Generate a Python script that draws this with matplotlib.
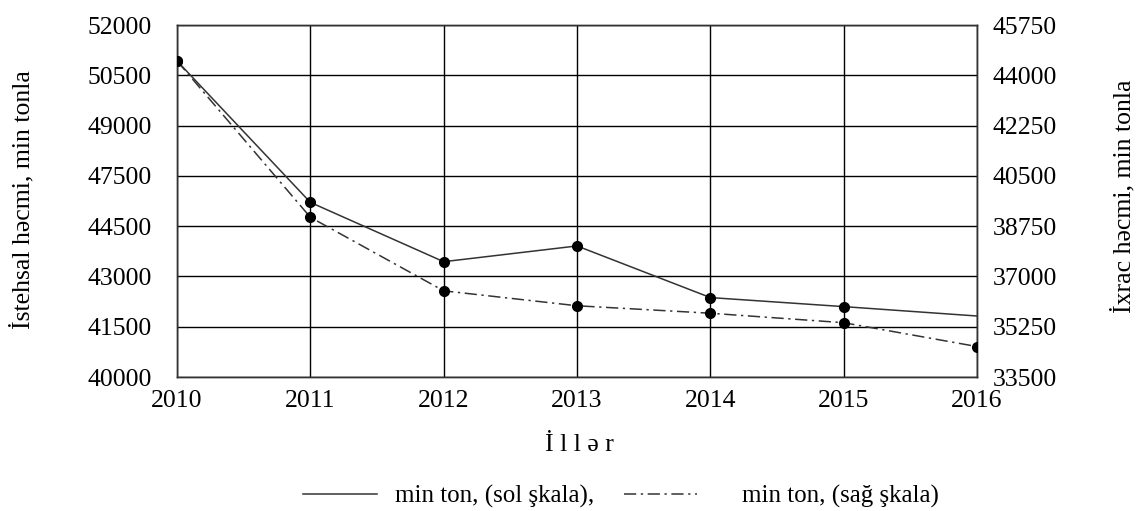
import matplotlib.pyplot as plt
from matplotlib.lines import Line2D

plt.rcParams['font.family'] = ['Liberation Serif', 'DejaVu Serif']

years = [2010, 2011, 2012, 2013, 2014, 2015, 2016]
# left scale (istehsal), in the chart's evenly spaced grid
production = [49430, 45210, 43440, 43910, 42370, 42100, 41820]
# right scale (ixrac)
exports = [44500, 39060, 36500, 35980, 35720, 35390, 34560]

left_ticks = [40000, 41500, 43000, 44500, 46000, 47500, 49000, 50500]
left_labels = ['40000', '41500', '43000', '44500', '47500', '49000', '50500', '52000']
right_ticks = [33500, 35250, 37000, 38750, 40500, 42250, 44000, 45750]

FS = 18.5
dashdot = (0, (8, 3, 1.5, 3))

fig = plt.figure(figsize=(11.39, 5.11), dpi=100)
ax = fig.add_axes([0.1554, 0.2622, 0.7024, 0.6888])
ax2 = ax.twinx()

ax.plot(years, production, color='#333333', lw=1.1, marker='o', ms=7,
        mfc='black', mec='black', markevery=[0, 1, 2, 3, 4, 5], zorder=3)
ax2.plot(years, exports, color='#333333', lw=1.1, ls=dashdot,
         marker='o', ms=7, mfc='black', mec='black', zorder=3)

ax.set_xlim(2010, 2016)
ax.set_ylim(40000, 50500)
ax2.set_ylim(33500, 45750)
ax.set_xticks(years)
ax.set_yticks(left_ticks)
ax.set_yticklabels(left_labels)
ax2.set_yticks(right_ticks)

ax.grid(True, color='black', lw=1.0)
ax.set_axisbelow(True)
for a in (ax, ax2):
    for s in a.spines.values():
        s.set_color('#333333')
        s.set_linewidth(1.0)
ax.tick_params(axis='both', length=0, labelsize=FS)
ax.tick_params(axis='y', pad=18)
ax.tick_params(axis='x', pad=9)
ax2.tick_params(axis='y', length=0, labelsize=FS, pad=11)

fig.text(0.0193, 0.609, 'İstehsal həcmi, min tonla', rotation=90, fontsize=FS,
         ha='center', va='center')
fig.text(0.986, 0.616, 'İxrac həcmi, min tonla', rotation=90, fontsize=FS,
         ha='center', va='center')
fig.text(0.509, 0.129, 'İ l l ə r', fontsize=FS, ha='center', va='center')

# two separate legend entries, spaced like the original
fig.legend([Line2D([], [], color='#333333', lw=1.1)], ['min ton, (sol şkala),'],
           loc='center left', bbox_to_anchor=(0.266, 0.029), frameon=False,
           fontsize=18, handlelength=2.96, handletextpad=0.72,
           borderpad=0, borderaxespad=0)
fig.legend([Line2D([], [], color='#333333', lw=1.1, ls=dashdot)], ['min ton, (sağ şkala)'],
           loc='center left', bbox_to_anchor=(0.548, 0.029), frameon=False,
           fontsize=18, handlelength=2.92, handletextpad=1.8,
           borderpad=0, borderaxespad=0)

fig.savefig('out.png', dpi=100)
